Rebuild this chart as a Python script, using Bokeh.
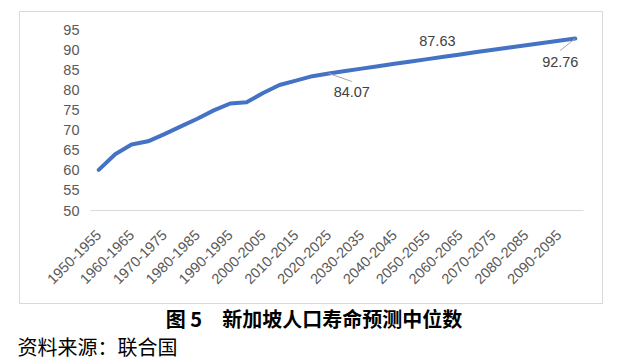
from bokeh.plotting import figure
from bokeh.models import Range1d, FixedTicker, Label, ColumnDataSource, InlineStyleSheet
from bokeh.layouts import column
from bokeh.embed import file_html
from bokeh.resources import INLINE
from math import pi

# ---- data ----
categories = ["1950-1955", "1955-1960", "1960-1965", "1965-1970", "1970-1975",
              "1975-1980", "1980-1985", "1985-1990", "1990-1995", "1995-2000",
              "2000-2005", "2005-2010", "2010-2015", "2015-2020", "2020-2025",
              "2025-2030", "2030-2035", "2035-2040", "2040-2045", "2045-2050",
              "2050-2055", "2055-2060", "2060-2065", "2065-2070", "2070-2075",
              "2075-2080", "2080-2085", "2085-2090", "2090-2095", "2095-2100"]
life_expectancy = [60.1, 64.0, 66.4, 67.2, 69.0, 70.9, 72.8, 74.9, 76.6, 76.9,
                   79.2, 81.2, 82.3, 83.4, 84.07, 84.67, 85.27, 85.86, 86.46, 87.05,
                   87.63, 88.22, 88.80, 89.38, 89.96, 90.53, 91.10, 91.65, 92.21, 92.76]
labelled_points = ["2020-2025", "2050-2055", "2095-2100"]
y_ticks = [50, 55, 60, 65, 70, 75, 80, 85, 90, 95]
title_text = "图 5　新加坡人口寿命预测中位数"
source_text = "资料来源：联合国"

# ---- chart layout (p1 placed at page 19,11) ----
W, H = 584, 293
FL, FR, FT, FB = 71, 564, 18, 199   # frame edges inside p1
fw, fh = FR - FL, FB - FT
n = len(categories)
x_lo, x_hi = -0.5, n - 0.5
y_lo, y_hi = 50, 95
pxx = fw / (x_hi - x_lo)
pxy = fh / (y_hi - y_lo)

p = figure(width=W, height=H, output_backend="svg", toolbar_location=None,
           x_range=Range1d(x_lo, x_hi), y_range=Range1d(y_lo, y_hi),
           min_border_left=FL, min_border_right=W - FR,
           min_border_top=FT, min_border_bottom=H - FB)
p.margin = (11, 0, 0, 19)
p.stylesheets = [InlineStyleSheet(css=":host { box-shadow: inset 0 0 0 1px #d9d9d9 !important; }")]
p.outline_line_color = None
p.background_fill_color = None
p.border_fill_color = None
p.xgrid.visible = False
p.ygrid.visible = False

xs = list(range(n))
src = ColumnDataSource(dict(x=xs, y=life_expectancy, cat=categories))
p.line("x", "y", source=src, line_color="#4472C4", line_width=4,
       line_cap="round", line_join="round")

font = "Liberation Sans"
tick_color = "#595959"

xa = p.xaxis[0]
xa.ticker = FixedTicker(ticks=xs[::2])
xa.major_label_overrides = {i: categories[i] for i in xs[::2]}
xa.major_label_orientation = pi / 4
xa.axis_line_color = "#d9d9d9"
xa.major_tick_line_color = None
xa.minor_tick_line_color = None
xa.major_tick_out = 0
xa.minor_tick_out = 0
xa.major_label_text_font = font
xa.major_label_text_font_size = "14.5px"
xa.major_label_text_color = tick_color
xa.major_label_standoff = 22

ya = p.yaxis[0]
ya.ticker = FixedTicker(ticks=y_ticks)
ya.axis_line_color = None
ya.major_tick_line_color = None
ya.minor_tick_line_color = None
ya.major_tick_out = 0
ya.minor_tick_out = 0
ya.major_label_text_font = font
ya.major_label_text_font_size = "14.5px"
ya.major_label_text_color = tick_color
ya.major_label_standoff = 11

# data labels with leader lines (offsets in px)
label_offsets = {"2020-2025": (23, -19, (23, -8)),
                 "2050-2055": (10, 18, None),
                 "2095-2100": (-15, -23, (-15, -12))}
for cat in labelled_points:
    i = categories.index(cat)
    v = life_expectancy[i]
    dx, dy, lead = label_offsets[cat]
    if lead is not None:
        p.segment(x0=[i], y0=[v], x1=[i + lead[0] / pxx], y1=[v + lead[1] / pxy],
                  line_color="#a6a6a6", line_width=1)
    p.add_layout(Label(x=i, y=v, x_offset=dx, y_offset=dy, text=f"{v:.2f}",
                       text_align="center", text_baseline="middle",
                       text_font=font, text_font_size="14.5px",
                       text_color="#404040"))

# ---- caption figure ----
CW, CH = 620, 58
cap = figure(width=CW, height=CH, output_backend="svg", toolbar_location=None,
             x_range=Range1d(0, CW), y_range=Range1d(0, CH),
             x_axis_location=None, y_axis_location=None,
             min_border=0, min_border_left=0, min_border_right=0,
             min_border_top=0, min_border_bottom=0)
cap.margin = (1, 0, 0, 0)
cap.outline_line_color = None
cap.xgrid.visible = False
cap.ygrid.visible = False
cap.background_fill_color = None
cap.border_fill_color = None
for fig in (p, cap):
    try:
        fig.frame_align = False
    except AttributeError:
        pass
cap.add_layout(Label(x=313.5, y=CH - 13, x_units="screen", y_units="screen",
                     text=title_text, text_align="center", text_baseline="middle",
                     text_font="Noto Sans CJK SC", text_font_style="bold",
                     text_font_size="20px", text_color="black"))
cap.add_layout(Label(x=17, y=CH - 41, x_units="screen", y_units="screen",
                     text=source_text, text_align="left", text_baseline="middle",
                     text_font="Noto Sans CJK SC", text_font_size="20px",
                     text_color="black"))

layout = column(p, cap, spacing=0)
open("out.html", "w").write(file_html(layout, INLINE))
